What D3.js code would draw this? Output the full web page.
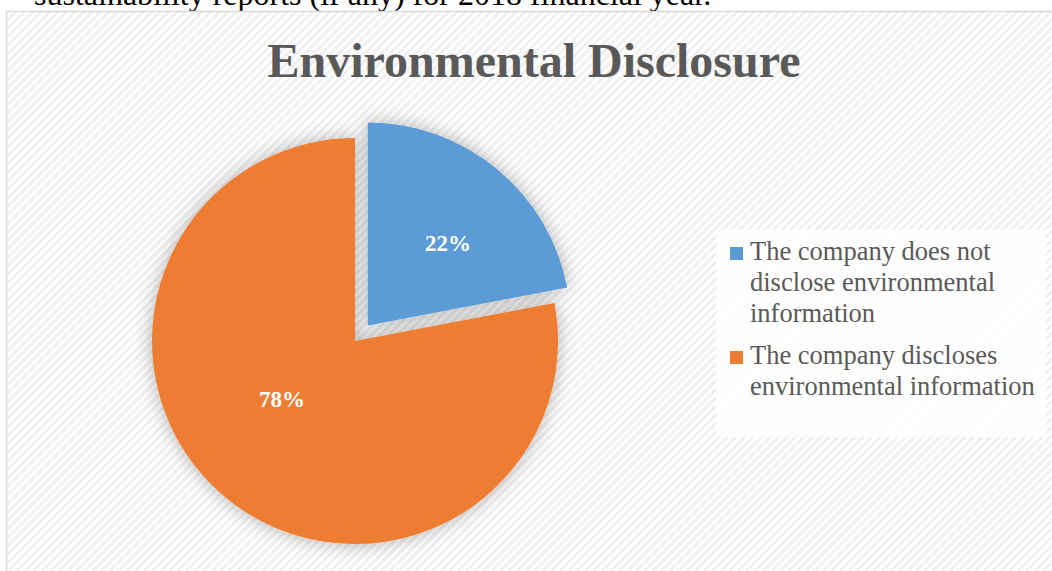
<!DOCTYPE html>
<html>
<head>
<meta charset="utf-8">
<script src="https://cdn.jsdelivr.net/npm/d3@7"></script>
<style>
  html, body { margin: 0; padding: 0; background: #fff; overflow: hidden; }
  svg { display: block; }
</style>
</head>
<body>
<svg id="chart" width="1052" height="571"></svg>
<script>
// Share of companies by environmental disclosure
const categories = [
  "The company does not disclose environmental information",
  "The company discloses environmental information"
];
const values = [22, 78];
const colors = ["#5B9BD5", "#ED7D31"];
const legendLines = [
  ["The company does not", "disclose environmental", "information"],
  ["The company discloses", "environmental information"]
];
const chartTitle = "Environmental Disclosure";
const pageText = "sustainability reports (if any) for 2018 financial year.";

const W = 1052, H = 571;
const serif = "'Liberation Serif', 'Times New Roman', serif";
const svg = d3.select("#chart");
const defs = svg.append("defs");

// diagonal hatch for the chart area
const pat = defs.append("pattern")
  .attr("id", "hatch").attr("patternUnits", "userSpaceOnUse")
  .attr("width", 6).attr("height", 6)
  .attr("patternTransform", "rotate(-45)");
pat.append("rect").attr("width", 6).attr("height", 6).attr("fill", "#ffffff");
pat.append("rect").attr("width", 6).attr("height", 3).attr("fill", "#f0f0f0");

// soft shadow behind the pie
const f = defs.append("filter").attr("id", "shadow")
  .attr("x", "-20%").attr("y", "-20%").attr("width", "140%").attr("height", "140%");
f.append("feGaussianBlur").attr("in", "SourceAlpha").attr("stdDeviation", 9).attr("result", "b");
f.append("feColorMatrix").attr("in", "b").attr("type", "matrix")
  .attr("values", "0 0 0 0 0  0 0 0 0 0  0 0 0 0 0  0 0 0 0.3 0").attr("result", "s");
const fm = f.append("feMerge");
fm.append("feMergeNode").attr("in", "s");
fm.append("feMergeNode").attr("in", "SourceGraphic");

// running text above the chart (page body)
svg.append("text")
  .attr("x", 34).attr("y", 5)
  .attr("font-family", serif)
  .attr("font-size", 32).attr("fill", "#000")
  .text(pageText);

// chart area
svg.append("rect")
  .attr("x", 6.5).attr("y", 11.5).attr("width", W).attr("height", H)
  .attr("fill", "url(#hatch)").attr("stroke", "#d9d9d9").attr("stroke-width", 1.5);

// title
svg.append("text")
  .attr("x", 534).attr("y", 77)
  .attr("text-anchor", "middle")
  .attr("font-family", serif)
  .attr("font-weight", "bold").attr("font-size", 48).attr("fill", "#595959")
  .text(chartTitle);

// pie
const cx = 355, cy = 341, R = 203, explode = 20;
const pie = d3.pie().sort(null).value(d => d)(values);
const arc = d3.arc().innerRadius(0).outerRadius(R);
const g = svg.append("g").attr("transform", `translate(${cx},${cy})`).attr("filter", "url(#shadow)");

function offset(d, i) {
  if (i !== 0) return [0, 0];
  const a = (d.startAngle + d.endAngle) / 2;
  return [Math.sin(a) * explode, -Math.cos(a) * explode];
}

g.selectAll("path.slice").data(pie).join("path")
  .attr("class", "slice")
  .attr("d", arc)
  .attr("fill", (d, i) => colors[i])
  .attr("transform", (d, i) => `translate(${offset(d, i)})`);

// value labels, placed inside each slice
const labelRadius = [115, 93];
const labelTurn = [0.08, 0.21];
svg.append("g").attr("transform", `translate(${cx},${cy})`)
  .selectAll("text").data(pie).join("text")
  .attr("transform", (d, i) => {
    const a = (d.startAngle + d.endAngle) / 2 + labelTurn[i];
    const o = offset(d, i);
    return `translate(${Math.sin(a) * labelRadius[i] + o[0]},${-Math.cos(a) * labelRadius[i] + o[1]})`;
  })
  .attr("text-anchor", "middle").attr("dy", "0.35em")
  .attr("font-family", serif)
  .attr("font-weight", "bold").attr("font-size", 23).attr("fill", "#fff")
  .text(d => d.value + "%");

// legend
const lg = svg.append("g");
lg.append("rect").attr("x", 716).attr("y", 230).attr("width", 330).attr("height", 207)
  .attr("fill", "#ffffff").attr("opacity", 0.85);
const entryY = [260, 364];
legendLines.forEach((lines, i) => {
  lg.append("rect").attr("x", 730).attr("y", entryY[i] - 13).attr("width", 13).attr("height", 13)
    .attr("fill", colors[i]);
  const t = lg.append("text")
    .attr("x", 750).attr("y", entryY[i])
    .attr("font-family", serif)
    .attr("font-size", 26.5).attr("fill", "#595959");
  lines.forEach((ln, j) => {
    t.append("tspan").attr("x", 750).attr("y", entryY[i] + j * 31).text(ln);
  });
});
</script>
</body>
</html>
